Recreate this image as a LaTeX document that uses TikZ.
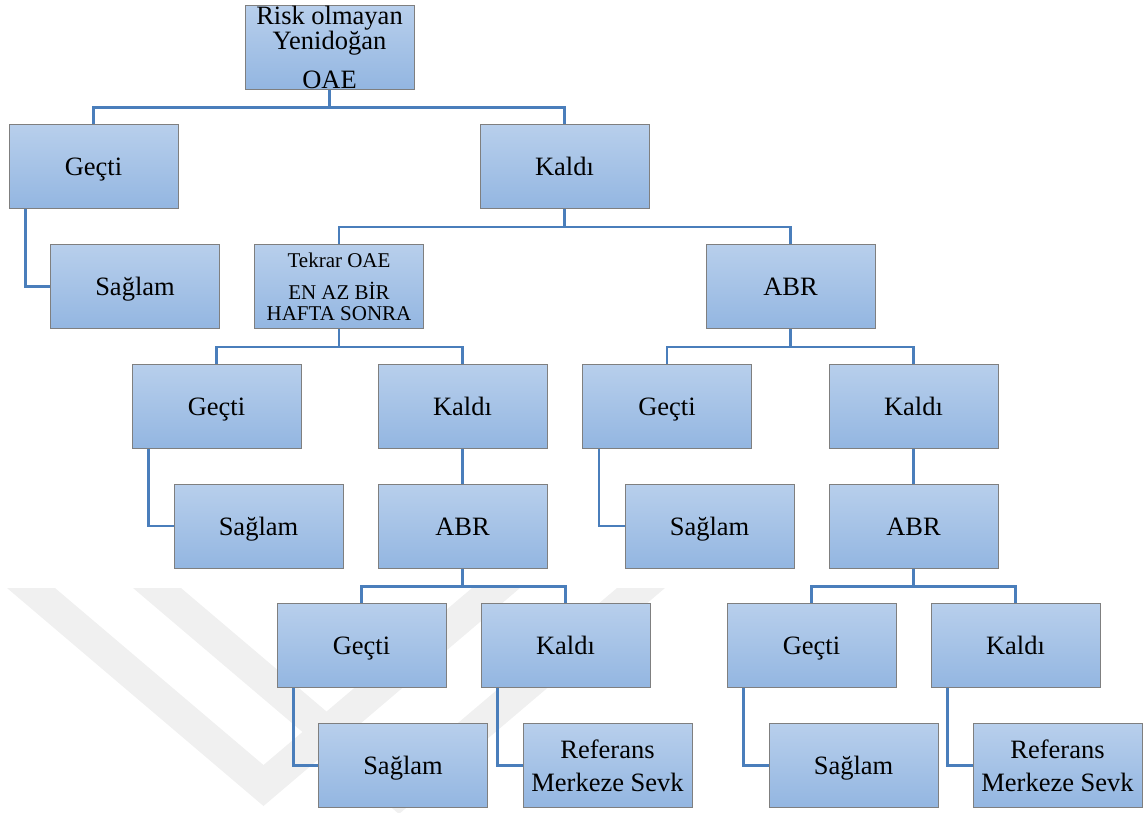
\documentclass[tikz,border=0pt]{standalone}
\usepackage{fontspec}
\setmainfont{Liberation Serif}
\definecolor{boxtop}{HTML}{B8CFEC}
\definecolor{boxbot}{HTML}{93B6E1}
\definecolor{boxborder}{HTML}{7F7F7F}
\definecolor{linec}{HTML}{4A7EBB}
\begin{document}
\begin{tikzpicture}[x=1pt,y=-1pt,
  box/.style={rectangle, draw=boxborder, line width=1pt, top color=boxtop, bottom color=boxbot,
    minimum width=169pt, minimum height=84pt, inner sep=0pt, font=\fontsize{26.5}{26}\selectfont},
  one/.style={box, text height=18pt, text depth=0pt},
  multi/.style={box, align=center},
  conn/.style={draw=linec, line width=2.2pt},
  wm/.style={fill=black!6, draw=none}]
\useasboundingbox (0,0) rectangle (1147,812);
% faint watermark
\fill[wm] (7,588) -- (263.5,806) -- (520,588) -- (472,588) -- (263.5,765) -- (55,588) -- cycle;
\fill[wm] (133,588) -- (399,814) -- (665,588) -- (617,588) -- (399,773) -- (181,588) -- cycle;
% nodes
\node[multi] (root) at (329.5,47) {Risk olmayan\\[-1pt]Yenidoğan\\[13pt]OAE};
\node[one] (g1) at (93.5,166.5) {Geçti};
\node[one] (k1) at (564.5,166.5) {Kaldı};
\node[one] (s1) at (135,286.5) {Sağlam};
\node[multi, font=\fontsize{21}{21}\selectfont] (t) at (339,286.5) {Tekrar OAE\\[11pt]EN AZ BİR\\HAFTA SONRA};
\node[one] (abr1) at (790.5,286.5) {ABR};
\node[one] (g2) at (216.5,406) {Geçti};
\node[one] (k2) at (462.5,406) {Kaldı};
\node[one] (g3) at (667,406) {Geçti};
\node[one] (k3) at (913.5,406) {Kaldı};
\node[one] (s2) at (258.5,526) {Sağlam};
\node[one] (abr2) at (462.5,526) {ABR};
\node[one] (s3) at (709.5,526) {Sağlam};
\node[one] (abr3) at (913.5,526) {ABR};
\node[one] (g4) at (361.5,645.5) {Geçti};
\node[one] (k4) at (565.5,645.5) {Kaldı};
\node[one] (g5) at (811.5,645.5) {Geçti};
\node[one] (k5) at (1015.5,645.5) {Kaldı};
\node[one] (s4) at (403,765.5) {Sağlam};
\node[multi, font=\fontsize{26.5}{33}\selectfont] (r1) at (607.5,765.5) {Referans\\Merkeze Sevk};
\node[one] (s5) at (853.5,765.5) {Sağlam};
\node[multi, font=\fontsize{26.5}{33}\selectfont] (r2) at (1057.5,765.5) {Referans\\Merkeze Sevk};
% connectors
\draw[conn] (root.south) -- ++(0,18) -| (g1.north);
\draw[conn] (root.south) -- ++(0,18) -| (k1.north);
\draw[conn] ([xshift=17pt]g1.south west) |- (s1.west);
\draw[conn] (k1.south) -- ++(0,18) -| (t.north);
\draw[conn] (k1.south) -- ++(0,18) -| (abr1.north);
\draw[conn] (t.south) -- ++(0,18) -| (g2.north);
\draw[conn] (t.south) -- ++(0,18) -| (k2.north);
\draw[conn] (abr1.south) -- ++(0,18) -| (g3.north);
\draw[conn] (abr1.south) -- ++(0,18) -| (k3.north);
\draw[conn] ([xshift=17pt]g2.south west) |- (s2.west);
\draw[conn] (k2.south) -- (abr2.north);
\draw[conn] ([xshift=17pt]g3.south west) |- (s3.west);
\draw[conn] (k3.south) -- (abr3.north);
\draw[conn] (abr2.south) -- ++(0,18) -| (g4.north);
\draw[conn] (abr2.south) -- ++(0,18) -| (k4.north);
\draw[conn] (abr3.south) -- ++(0,18) -| (g5.north);
\draw[conn] (abr3.south) -- ++(0,18) -| (k5.north);
\draw[conn] ([xshift=17pt]g4.south west) |- (s4.west);
\draw[conn] ([xshift=17pt]k4.south west) |- (r1.west);
\draw[conn] ([xshift=17pt]g5.south west) |- (s5.west);
\draw[conn] ([xshift=17pt]k5.south west) |- (r2.west);
\end{tikzpicture}
\end{document}
